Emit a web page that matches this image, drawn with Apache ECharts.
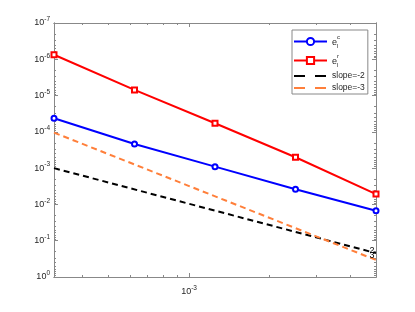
<!DOCTYPE html>
<html><head><meta charset="utf-8">
<script src="https://cdn.jsdelivr.net/npm/echarts@6/dist/echarts.min.js"></script>
<style>html,body{margin:0;padding:0;background:#fff}#c{width:415px;height:312px}</style>
</head><body><div id="c"></div>
<script>
// ---- data ----
const hValues = [3.125e-4, 6.25e-4, 1.25e-3, 2.5e-3, 5e-3];
const errC = [4.2e-5, 2.16e-4, 9.1e-4, 3.8e-3, 1.5e-2];
const errR = [7.5e-7, 7.0e-6, 5.8e-5, 5.0e-4, 5.2e-3];
const slopeH = [3.125e-4, 5e-3];
const slope2 = [1.0e-3, 0.22];
const slope3 = [1.05e-4, 0.34];
const xRange = [3.125e-4, 5e-3];
const yRange = [1e-7, 1];
const xMajorTicks = [1e-3];
const xMinorTicks = [4e-4, 5e-4, 6e-4, 7e-4, 8e-4, 9e-4, 2e-3, 3e-3, 4e-3, 5e-3];
const yMajorTicks = [1e-7, 1e-6, 1e-5, 1e-4, 1e-3, 1e-2, 1e-1, 1];
const yMinorMultipliers = [2, 3, 4, 5, 6, 7, 8, 9];
const seriesNames = ['e_l^c', 'e_l^r', 'slope=-2', 'slope=-3'];
const slopeTags = ['2', '3'];

const L = Math.log10;
const lg = a => a.map(L);
const yMinor = [];
yMajorTicks.slice(0, -1).forEach(d => yMinorMultipliers.forEach(m => yMinor.push(L(d * m))));

const FONT = 'Liberation Sans';
const AX = '#888';
const TXT = '#262626';
const pow10Label = v => {
  const e = Math.round(v);
  return '{b|10}{s|' + (e === 0 ? '0' : String(e)) + '}';
};
const powRich = {
  b: {fontSize: 9, fontFamily: FONT, color: TXT, lineHeight: 14, verticalAlign: 'middle'},
  s: {fontSize: 6.5, fontFamily: FONT, color: TXT, verticalAlign: 'top'}
};

function xAx(pos, ticks, len, showLabel) {
  return {
    type: 'value', position: pos, min: L(xRange[0]), max: L(xRange[1]),
    axisLine: {show: true, onZero: false, lineStyle: {color: AX, width: 1}},
    axisTick: {show: true, inside: true, length: len, customValues: lg(ticks), lineStyle: {color: AX, width: 1}},
    axisLabel: {show: showLabel, customValues: lg(ticks), margin: 8, formatter: pow10Label, rich: powRich},
    splitLine: {show: false}
  };
}
function yAx(pos, ticks, len, showLabel) {
  return {
    type: 'value', position: pos, min: L(yRange[0]), max: L(yRange[1]), inverse: true,
    axisLine: {show: true, onZero: false, lineStyle: {color: AX, width: 1}},
    axisTick: {show: true, inside: true, length: len, customValues: ticks, lineStyle: {color: AX, width: 1}},
    axisLabel: {show: showLabel, customValues: ticks, margin: 4, formatter: pow10Label, rich: powRich},
    splitLine: {show: false}
  };
}

const yMajorLog = lg(yMajorTicks);
const pts = (xs, ys) => xs.map((x, i) => [L(x), L(ys[i])]);
const endTag = (xs, ys, tag, off) => ({
  symbol: 'circle', symbolSize: 0, silent: true,
  data: [{
    coord: [L(xs[xs.length - 1]), L(ys[ys.length - 1])],
    label: {show: true, formatter: tag, position: 'inside', offset: off, fontSize: 9, fontFamily: FONT, color: '#000'}
  }]
});

const legendFormatter = name => {
  if (name.startsWith('e_l^')) return '{e|e}{sup|' + name.slice(4) + '}{sub|l}';
  return '{t|' + name + '}';
};
const hiddenSym = {color: 'rgba(0,0,0,0)', borderColor: 'rgba(0,0,0,0)', borderWidth: 0};

const chart = echarts.init(document.getElementById('c'), null, {renderer: 'canvas'});
chart.setOption({
  animation: false,
  backgroundColor: '#fff',
  grid: {left: 54, right: 39, top: 23, bottom: 35, containLabel: false},
  xAxis: [
    xAx('bottom', xMajorTicks, 4, true),
    xAx('bottom', xMinorTicks, 2, false),
    xAx('top', xMajorTicks, 4, false),
    xAx('top', xMinorTicks, 2, false)
  ],
  yAxis: [
    yAx('left', yMajorLog, 4, true),
    yAx('left', yMinor, 2, false),
    yAx('right', yMajorLog, 4, false),
    yAx('right', yMinor, 2, false)
  ],
  legend: {
    orient: 'vertical', left: 292, top: 30, padding: [2, 3, 0, 1], itemGap: 0,
    itemWidth: 33, itemHeight: 9,
    backgroundColor: '#fff', borderColor: AX, borderWidth: 1,
    data: [
      {name: seriesNames[0]},
      {name: seriesNames[1]},
      {name: seriesNames[2], itemStyle: hiddenSym, lineStyle: {type: [11, 10]}},
      {name: seriesNames[3], itemStyle: hiddenSym, lineStyle: {type: [11, 10]}}
    ],
    formatter: legendFormatter,
    textStyle: {
      fontSize: 8.5, fontFamily: FONT, color: TXT, lineHeight: 12,
      rich: {
        e: {fontSize: 9, fontFamily: FONT, color: TXT, lineHeight: 19, verticalAlign: 'middle', padding: [2, 0, 0, 0]},
        sup: {fontSize: 6, fontFamily: FONT, color: TXT, verticalAlign: 'top', width: 0, padding: [2, 0, 0, 0]},
        sub: {fontSize: 6, fontFamily: FONT, color: TXT, verticalAlign: 'bottom', padding: [0, 0, 2, 0]},
        t: {fontSize: 8.5, fontFamily: FONT, color: TXT, lineHeight: 12}
      }
    }
  },
  series: [
    {
      name: seriesNames[0], type: 'line', clip: false, data: pts(hValues, errC),
      color: '#0000ff', symbol: 'emptyCircle', symbolSize: 5,
      lineStyle: {width: 2, color: '#0000ff'}, itemStyle: {color: '#0000ff', borderWidth: 2}
    },
    {
      name: seriesNames[1], type: 'line', clip: false, data: pts(hValues, errR),
      color: '#ff0000', symbol: 'emptyRect', symbolSize: 5,
      lineStyle: {width: 2, color: '#ff0000'}, itemStyle: {color: '#ff0000', borderWidth: 2}
    },
    {
      name: seriesNames[2], type: 'line', clip: false, data: pts(slopeH, slope2),
      color: '#000000', symbol: 'none',
      lineStyle: {width: 2, type: [6, 4], color: '#000000'},
      markPoint: endTag(slopeH, slope2, slopeTags[0], [-4, -3])
    },
    {
      name: seriesNames[3], type: 'line', clip: false, data: pts(slopeH, slope3),
      color: '#ff7f3a', symbol: 'none',
      lineStyle: {width: 2, type: [6, 4], color: '#ff7f3a'},
      markPoint: endTag(slopeH, slope3, slopeTags[1], [-4, -4])
    }
  ]
});
</script>
</body></html>
